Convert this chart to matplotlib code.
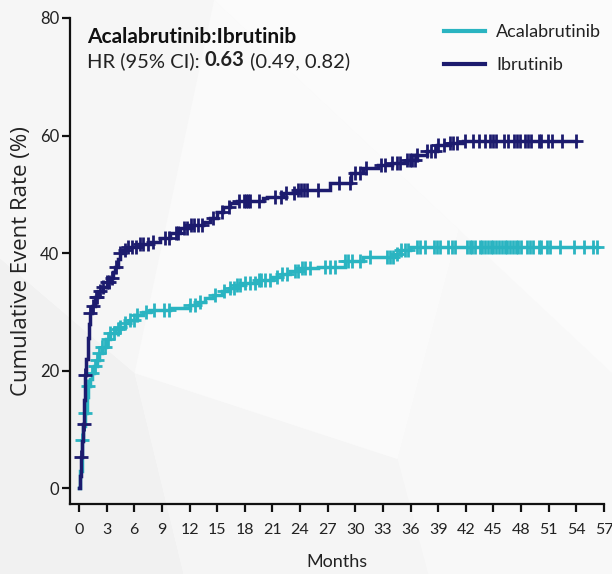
import numpy as np
import matplotlib
matplotlib.use("Agg")
import matplotlib.pyplot as plt
from matplotlib.patches import Polygon

# ---- data -------------------------------------------------------------
# cumulative event rate (%) after each event time (months)
acala_t = [0, 0.15, 0.3, 0.45, 0.65, 0.85, 1.0, 1.2, 1.4, 1.65, 1.9, 2.2, 2.5,
           2.9, 3.4, 3.9, 4.45, 5.0, 5.5, 6.3, 7.0, 7.7, 9.9, 12.0, 12.8, 13.7,
           14.6, 15.5, 16.4, 17.1, 17.8, 19.3, 21.1, 22.0, 22.9, 24.0, 26.0,
           28.9, 30.8, 34.3, 34.9, 35.9]
acala_v = [0, 3.0, 8.2, 10.5, 12.8, 15.5, 17.3, 18.5, 19.6, 20.8, 21.8, 23.0,
           24.0, 25.3, 26.4, 27.0, 27.5, 28.1, 28.6, 29.5, 30.0, 30.3, 30.7,
           31.2, 31.6, 32.3, 32.9, 33.5, 34.0, 34.5, 34.9, 35.4, 36.0, 36.5,
           36.9, 37.4, 37.7, 38.6, 39.3, 39.8, 40.5, 41.1]
acala_end = 56.2

ibru_t = [0, 0.1, 0.18, 0.3, 0.47, 0.55, 0.65, 0.8, 0.95, 1.1, 1.2, 1.4, 1.74,
          2.1, 2.6, 3.0, 3.4, 3.7, 3.9, 4.2, 4.45, 4.8, 5.2, 6.5, 7.7, 8.8,
          9.9, 11.0, 12.0, 13.5, 14.2, 15.0, 15.6, 16.4, 17.2, 20.0, 20.4,
          22.2, 23.7, 27.2, 29.5, 30.8, 32.5, 34.0, 35.6, 36.7, 37.8, 38.9,
          40.3, 41.7]
ibru_v = [0, 2.0, 5.3, 8.0, 10.9, 15.0, 19.2, 22.0, 25.5, 28.0, 29.8, 31.0,
          32.6, 33.5, 34.3, 35.0, 35.8, 36.8, 37.7, 39.0, 40.0, 40.6, 41.1,
          41.5, 41.9, 42.6, 43.4, 44.2, 44.8, 45.3, 46.0, 47.0, 47.9, 48.5,
          48.8, 49.3, 49.6, 50.2, 50.8, 51.9, 53.6, 54.5, 55.0, 55.4, 55.9,
          56.7, 57.3, 58.4, 58.7, 59.1]
ibru_end = 54.0

# censoring times (months)
acala_cens = [0.3, 0.65, 1.0, 1.4, 1.7, 2.0, 2.2, 2.5, 2.8, 3.1, 3.4, 3.8, 4.2,
              4.5, 5.0, 5.5, 6.0, 6.3, 7.3, 8.1, 9.2, 9.8, 12.05, 12.6, 13.1,
              14.8, 15.7, 16.4, 16.8, 17.1, 17.5, 18.0, 18.6, 19.1, 19.5, 19.8,
              20.2, 20.7, 21.5, 22.0, 22.6, 23.5, 23.8, 24.2, 24.5, 25.1, 26.7,
              27.3, 27.8, 28.9, 29.2, 29.6, 30.5, 31.6, 33.4, 33.8, 34.1, 34.5,
              35.0, 35.4, 35.7, 36.7, 37.0, 37.6, 38.5, 38.9, 39.2, 40.1, 40.5,
              40.8, 42.1, 42.4, 42.7, 43.0, 43.5, 43.8, 44.1, 44.4, 44.7, 45.0,
              45.3, 45.6, 45.9, 46.2, 46.5, 46.8, 47.1, 47.4, 47.7, 48.0, 48.6,
              49.0, 49.3, 49.9, 50.2, 50.8, 51.1, 52.2, 53.7, 54.8, 55.8, 56.2]
ibru_cens = [0.2, 0.5, 0.7, 1.2, 1.5, 1.8, 2.0, 2.3, 2.6, 3.0, 3.3, 3.6, 4.0,
             4.5, 5.0, 5.3, 5.8, 6.2, 6.6, 7.0, 7.5, 8.0, 9.3, 9.8, 10.5, 10.8,
             11.4, 11.7, 12.2, 12.5, 12.9, 13.3, 14.5, 15.5, 16.3, 17.4, 17.9,
             18.1, 18.3, 18.6, 19.5, 21.3, 21.9, 22.5, 23.3, 23.8, 24.1, 24.4,
             24.7, 26.0, 28.2, 29.4, 30.0, 30.5, 31.2, 32.8, 33.2, 34.0, 34.5,
             34.9, 35.6, 35.9, 36.2, 36.5, 36.7, 37.8, 38.2, 38.6, 39.0, 39.6,
             40.3, 40.6, 41.0, 41.9, 42.8, 43.4, 44.1, 44.6, 45.0, 45.3, 46.1,
             46.6, 47.2, 47.5, 47.9, 48.4, 48.8, 49.1, 49.9, 50.2, 50.9, 51.3,
             52.4, 54.0]

x_ticks = list(range(0, 58, 3))
y_ticks = [0, 20, 40, 60, 80]

series_names = ["Acalabrutinib", "Ibrutinib"]
colors = ["#2ab4c1", "#1c1b6e"]

title_line = "Acalabrutinib:Ibrutinib"
hr_parts = [("HR (95% CI): ", "normal"), ("0.63", "bold"), (" (0.49, 0.82)", "normal")]

# ---- figure -----------------------------------------------------------
W, H = 612, 574
fig = plt.figure(figsize=(W / 100, H / 100), dpi=100)
fig.patch.set_facecolor("#f9f9f9")

# faint low-poly backdrop
bg = fig.add_axes([0, 0, 1, 1], zorder=-10)
bg.set_xlim(0, 1); bg.set_ylim(0, 1); bg.axis("off")
shapes = [
    ([(0, 0), (0, 0.55), (0.22, 0.35), (0.30, 0.0)], "#f1f1f1"),
    ([(0, 0.55), (0, 1), (0.35, 1), (0.22, 0.35)], "#f6f6f6"),
    ([(0.30, 0.0), (0.22, 0.35), (0.65, 0.2), (0.70, 0.0)], "#f5f5f5"),
    ([(0.22, 0.35), (0.35, 1), (0.75, 0.6), (0.65, 0.2)], "#fafafa"),
    ([(0.70, 0.0), (0.65, 0.2), (0.75, 0.6), (1, 0.35), (1, 0)], "#f8f8f8"),
    ([(0.35, 1), (1, 1), (1, 0.35), (0.75, 0.6)], "#fbfbfb"),
]
for pts, c in shapes:
    bg.add_patch(Polygon(pts, closed=True, facecolor=c, edgecolor="none"))

ax = fig.add_axes([70 / W, 70 / H, 534 / W, 486 / H])
ax.set_facecolor("none")

def step_value(ts, vs, x):
    idx = np.searchsorted(ts, x, side="right") - 1
    return np.asarray(vs)[np.clip(idx, 0, len(vs) - 1)]

data = [(acala_t, acala_v, acala_end, acala_cens),
        (ibru_t, ibru_v, ibru_end, ibru_cens)]
handles = []
for (ts, vs, tend, cens), name, col in zip(data, series_names, colors):
    tt = list(ts) + [tend]
    vv = list(vs) + [vs[-1]]
    h, = ax.step(tt, vv, where="post", color=col, lw=2.5, label=name,
                 solid_joinstyle="miter")
    cx = np.asarray(cens)
    ax.plot(cx, step_value(ts, vs, cx), ls="none", marker="+", ms=9.5,
            mew=2.0, color=col)
    handles.append(h)

ax.set_xlim(-0.98, 57)
ax.set_ylim(-2.7, 80)
ax.set_xticks(x_ticks)
ax.set_yticks(y_ticks)
for s in ["top", "right"]:
    ax.spines[s].set_visible(False)
for s in ["left", "bottom"]:
    ax.spines[s].set_linewidth(1.6)
    ax.spines[s].set_color("#111111")
ax.tick_params(axis="both", width=1.6, length=5.8, color="#111111",
               labelcolor="#222222")
ax.tick_params(axis="x", labelsize=11.5, pad=8)
ax.tick_params(axis="y", labelsize=12, pad=2)
for lab in ax.get_xticklabels() + ax.get_yticklabels():
    lab.set_family("Lato")

ax.set_xlabel("Months", family="Lato", fontsize=13, color="#222222", labelpad=12)
ax.set_ylabel("Cumulative Event Rate (%)", family="Open Sans", fontsize=16,
              color="#222222", labelpad=6)

# hazard ratio annotation
ax.text(0.032, 0.949, title_line, transform=ax.transAxes, family="Lato",
        fontweight="bold", fontsize=15, color="#111111", va="baseline")
prev = None
for txt, wt in hr_parts:
    if prev is None:
        prev = ax.text(0.032, 0.899, txt, transform=ax.transAxes, family="Lato",
                       fontweight=wt, fontsize=14.5, color="#222222",
                       va="baseline")
    else:
        prev = ax.annotate(txt, xy=(1, 0), xycoords=prev, family="Lato",
                           fontweight=wt, fontsize=14.5, color="#222222",
                           va="bottom", ha="left")

leg = ax.legend(handles=handles, loc="upper left", bbox_to_anchor=(0.70, 0.988),
                frameon=False, prop={"family": "Lato", "size": 13},
                handlelength=2.3, handletextpad=0.6, labelspacing=0.95,
                borderpad=0, borderaxespad=0)
for ln in leg.get_lines():
    ln.set_linewidth(3)
for t in leg.get_texts():
    t.set_color("#222222")

fig.savefig("out.png", dpi=100, facecolor=fig.get_facecolor())
